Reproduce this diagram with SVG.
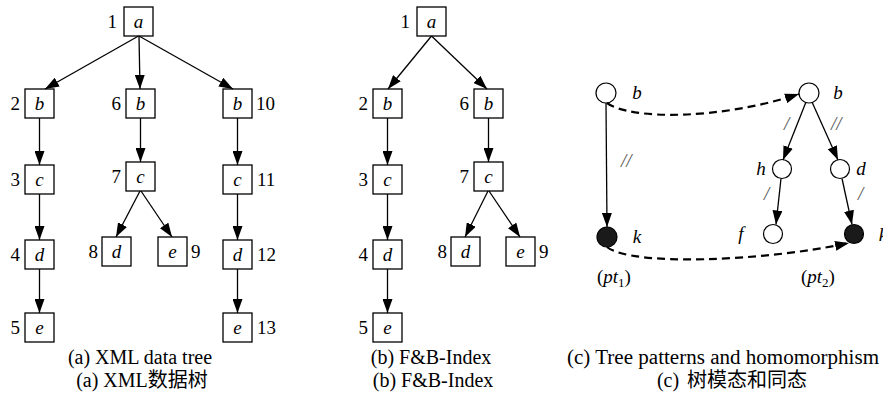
<svg xmlns="http://www.w3.org/2000/svg" width="883" height="416" viewBox="0 0 883 416" font-family="'Liberation Serif', 'Times New Roman', Times, 'DejaVu Serif', serif">
<defs>
<marker id="ah" markerUnits="userSpaceOnUse" markerWidth="14" markerHeight="10" refX="14" refY="5" orient="auto" viewBox="0 0 14 10"><path d="M0,0 L14,5 L0,10 z" fill="#000"/></marker>
</defs>
<style>
.box{fill:#fff;stroke:#000;stroke-width:1.3}
.lbl{font-family:'Liberation Serif','Times New Roman',Times,'DejaVu Serif',serif;font-size:19px;fill:#000}
.it{font-style:italic;text-anchor:middle}
.r{text-anchor:end}
.e{stroke:#000;stroke-width:1.3;fill:none;marker-end:url(#ah)}
.d{stroke:#000;stroke-width:2.2;fill:none;stroke-dasharray:8 5;marker-end:url(#ah)}
.cap{font-family:'Liberation Serif','Times New Roman',Times,'Noto Sans CJK SC',serif;font-size:20px;text-anchor:middle;fill:#000}
.c{fill:#fff;stroke:#000;stroke-width:1.2}
.f{fill:#1a1a1a;stroke:#000;stroke-width:1.2}
.sl{fill:#555;font-style:italic}
</style>
<rect width="883" height="416" fill="#fff"/>

<!-- Panel (a) -->
<g id="a1"><rect class="box" x="124" y="7" width="29" height="29"/><text class="lbl it" x="138.5" y="28">a</text><text class="lbl r" x="117" y="28">1</text></g>
<g id="a2"><rect class="box" x="25" y="89" width="29" height="29"/><text class="lbl it" x="39.5" y="110">b</text><text class="lbl r" x="20" y="110">2</text></g>
<g id="a6"><rect class="box" x="126" y="89" width="29" height="29"/><text class="lbl it" x="140.5" y="110">b</text><text class="lbl r" x="121" y="110">6</text></g>
<g id="a10"><rect class="box" x="223" y="89" width="29" height="29"/><text class="lbl it" x="237.5" y="110">b</text><text class="lbl" x="256" y="110">10</text></g>
<g id="a3"><rect class="box" x="25" y="165" width="29" height="29"/><text class="lbl it" x="39.5" y="186">c</text><text class="lbl r" x="20" y="186">3</text></g>
<g id="a7"><rect class="box" x="126" y="162" width="29" height="29"/><text class="lbl it" x="140.5" y="183">c</text><text class="lbl r" x="121" y="183">7</text></g>
<g id="a11"><rect class="box" x="223" y="165" width="29" height="29"/><text class="lbl it" x="237.5" y="186">c</text><text class="lbl" x="257" y="186">11</text></g>
<g id="a4"><rect class="box" x="25" y="240" width="29" height="29"/><text class="lbl it" x="39.5" y="261">d</text><text class="lbl r" x="20" y="261">4</text></g>
<g id="a8"><rect class="box" x="102" y="237" width="29" height="29"/><text class="lbl it" x="116.5" y="258">d</text><text class="lbl r" x="98" y="258">8</text></g>
<g id="a9"><rect class="box" x="158" y="237" width="29" height="29"/><text class="lbl it" x="172.5" y="258">e</text><text class="lbl" x="191" y="258">9</text></g>
<g id="a12"><rect class="box" x="223" y="240" width="29" height="29"/><text class="lbl it" x="237.5" y="261">d</text><text class="lbl" x="257" y="261">12</text></g>
<g id="a5"><rect class="box" x="25" y="313" width="29" height="29"/><text class="lbl it" x="39.5" y="334">e</text><text class="lbl r" x="20" y="334">5</text></g>
<g id="a13"><rect class="box" x="223" y="313" width="29" height="29"/><text class="lbl it" x="237.5" y="334">e</text><text class="lbl" x="257" y="334">13</text></g>

<!-- Panel (b) -->
<g id="b1"><rect class="box" x="417" y="7" width="29" height="29"/><text class="lbl it" x="431.5" y="28">a</text><text class="lbl r" x="410" y="28">1</text></g>
<g id="b2"><rect class="box" x="373" y="89" width="29" height="29"/><text class="lbl it" x="387.5" y="110">b</text><text class="lbl r" x="368" y="110">2</text></g>
<g id="b6"><rect class="box" x="474" y="89" width="29" height="29"/><text class="lbl it" x="488.5" y="110">b</text><text class="lbl r" x="469" y="110">6</text></g>
<g id="b3"><rect class="box" x="373" y="165" width="29" height="29"/><text class="lbl it" x="387.5" y="186">c</text><text class="lbl r" x="368" y="186">3</text></g>
<g id="b7"><rect class="box" x="474" y="162" width="29" height="29"/><text class="lbl it" x="488.5" y="183">c</text><text class="lbl r" x="469" y="183">7</text></g>
<g id="b4"><rect class="box" x="373" y="240" width="29" height="29"/><text class="lbl it" x="387.5" y="261">d</text><text class="lbl r" x="368" y="261">4</text></g>
<g id="b8"><rect class="box" x="451" y="237" width="29" height="29"/><text class="lbl it" x="465.5" y="258">d</text><text class="lbl r" x="447" y="258">8</text></g>
<g id="b9"><rect class="box" x="506" y="237" width="29" height="29"/><text class="lbl it" x="520.5" y="258">e</text><text class="lbl" x="539" y="258">9</text></g>
<g id="b5"><rect class="box" x="373" y="313" width="29" height="29"/><text class="lbl it" x="387.5" y="334">e</text><text class="lbl r" x="368" y="334">5</text></g>

<!-- Panel (c) -->
<g id="p1b"><circle class="c" cx="606" cy="93" r="10"/><text class="lbl it" x="637" y="99">b</text></g>
<g id="p1k"><circle class="f" cx="607" cy="237" r="10"/><text class="lbl it" x="637" y="243">k</text></g>
<g id="p2b"><circle class="c" cx="809" cy="93" r="10"/><text class="lbl it" x="838" y="99">b</text></g>
<g id="p2h"><circle class="c" cx="782" cy="169" r="9.5"/><text class="lbl it" x="761" y="175">h</text></g>
<g id="p2d"><circle class="c" cx="840" cy="169" r="9.5"/><text class="lbl it" x="861" y="175">d</text></g>
<g id="p2f"><circle class="c" cx="773" cy="234" r="9.5"/><text class="lbl it" x="741" y="240">f</text></g>
<g id="p2k"><circle class="f" cx="854" cy="234" r="9.5"/><text class="lbl it" x="883" y="241">k</text></g>

<!-- Connectors -->
<g id="connectors">
<path class="e" d="M138.5,36 L45,89"/>
<path class="e" d="M139,36 L140,89"/>
<path class="e" d="M139,36 L233,89"/>
<path class="e" d="M39.5,118 L39.5,165"/>
<path class="e" d="M39.5,194 L39.5,240"/>
<path class="e" d="M39.5,269 L39.5,313"/>
<path class="e" d="M140.5,118 L140.5,162"/>
<path class="e" d="M140,191 L116,237"/>
<path class="e" d="M141,191 L172,237"/>
<path class="e" d="M237.5,118 L237.5,165"/>
<path class="e" d="M237.5,194 L237.5,240"/>
<path class="e" d="M237.5,269 L237.5,313"/>

<path class="e" d="M431.5,36 L388,89"/>
<path class="e" d="M431.5,36 L487,89"/>
<path class="e" d="M387.5,118 L387.5,165"/>
<path class="e" d="M387.5,194 L387.5,240"/>
<path class="e" d="M387.5,269 L387.5,313"/>
<path class="e" d="M488.5,118 L488.5,162"/>
<path class="e" d="M488,191 L465,237"/>
<path class="e" d="M489,191 L520,237"/>

<path class="e" d="M606,103 L607,227"/>
<path class="e" d="M806,102 L783,160"/>
<path class="e" d="M812,102 L838,160"/>
<path class="e" d="M781,178.5 L776,224.5"/>
<path class="e" d="M842,178.5 L852,224.5"/>
<path class="d" d="M607,103 C630,120 720,120 799,94"/>
<path class="d" d="M607,247 C630,266 760,262 849,243"/>
</g>

<g id="slashes" class="lbl sl">
<text x="621" y="167">//</text>
<text x="784" y="130">/</text>
<text x="831" y="130">//</text>
<text x="764" y="200">/</text>
<text x="858" y="200">/</text>
</g>

<text class="lbl" x="597" y="283">(<tspan font-style="italic">pt</tspan><tspan font-size="13" dy="4">1</tspan><tspan dy="-4">)</tspan></text>
<text class="lbl" x="801" y="283">(<tspan font-style="italic">pt</tspan><tspan font-size="13" dy="4">2</tspan><tspan dy="-4">)</tspan></text>

<!-- Captions -->
<text class="cap" x="140" y="364">(a) XML data tree</text>
<text class="cap" x="142" y="387">(a) XML数据树</text>
<text class="cap" x="431" y="364">(b) F&amp;B-Index</text>
<text class="cap" x="433" y="387">(b) F&amp;B-Index</text>
<text class="cap" x="723" y="364" textLength="312" lengthAdjust="spacingAndGlyphs">(c) Tree patterns and homomorphism</text>
<text class="cap" x="732" y="387">(c)<tspan dx="8">树模态和同态</tspan></text>
</svg>
